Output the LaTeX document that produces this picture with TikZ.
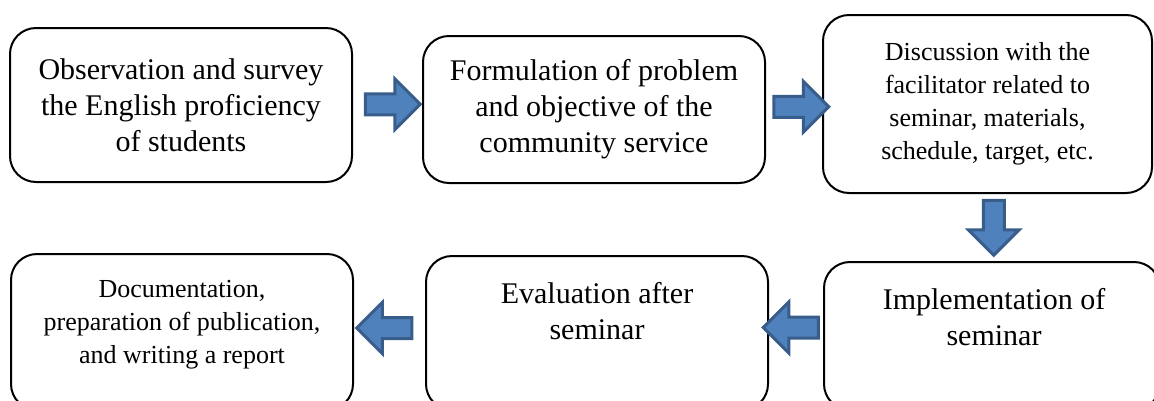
\documentclass[tikz,border=0pt]{standalone}
\usepackage{fontspec}
\setmainfont{Liberation Serif}
\usetikzlibrary{shapes.arrows,calc}

\definecolor{arrowfill}{HTML}{4F81BD}
\definecolor{arrowline}{HTML}{385D8A}

\tikzset{
  stagetext/.style={align=center, font=\fontsize{30}{36}\selectfont},
  smalltext/.style={font=\fontsize{26}{33}\selectfont},
  stage/.style={stagetext, draw, line width=2pt, rounded corners=26pt},
  blockarrow/.style={single arrow, draw=arrowline, fill=arrowfill, line width=3pt,
    minimum height=55pt, inner sep=9pt, single arrow head extend=15pt,
    single arrow head indent=0pt}
}

\begin{document}
\begin{tikzpicture}[x=1pt,y=-1pt]

% Page
\useasboundingbox (0,0) rectangle (1154,400);
\clip (0,0) rectangle (1154,400);

% Top row
\node[stage, minimum width=342pt, minimum height=154pt] (obs) at (181,105)
  {Observation and survey\\the English proficiency\\of students};
\node[stage, minimum width=342pt, minimum height=147pt] (form) at (594,109.5)
  {Formulation of problem\\and objective of the\\community service};
\node[stage, smalltext, minimum width=329pt, minimum height=178pt] (disc) at (987.5,104)
  {Discussion with the\\facilitator related to\\seminar, materials,\\schedule, target, etc.};

% Bottom row (boxes run past the lower edge)
\node[stage, minimum width=342pt, minimum height=156pt] (doc) at (182,332) {};
\node[stagetext, smalltext] (doctext) at (182,325)
  {Documentation,\\preparation of publication,\\and writing a report};
\node[stage, minimum width=342pt, minimum height=154pt] (eval) at (597,333) {};
\node[stagetext] (evaltext) at (597,311) {Evaluation after\\seminar};
\node[stage, minimum width=336pt, minimum height=148pt] (impl) at (992,336) {};
\node[stagetext] (impltext) at (994,317) {Implementation of\\seminar};

% Block arrows
\node[blockarrow, yshift=3pt] (a1) at ($(obs.east)!0.5!(form.west)$) {};
\node[blockarrow, xshift=2pt] (a2) at ($(form.east)!0.5!(disc.west)$) {};
\node[blockarrow, xshift=4pt, yshift=5pt, rotate=-90] (a3) at ($(disc.south)!0.5!(impl.north)$) {};
\node[blockarrow, yshift=7pt, rotate=180] (a4) at ($(impl.west)!0.5!(eval.east)$) {};
\node[blockarrow, yshift=4.5pt, rotate=180] (a5) at ($(eval.west)!0.5!(doc.east)$) {};

\end{tikzpicture}
\end{document}
